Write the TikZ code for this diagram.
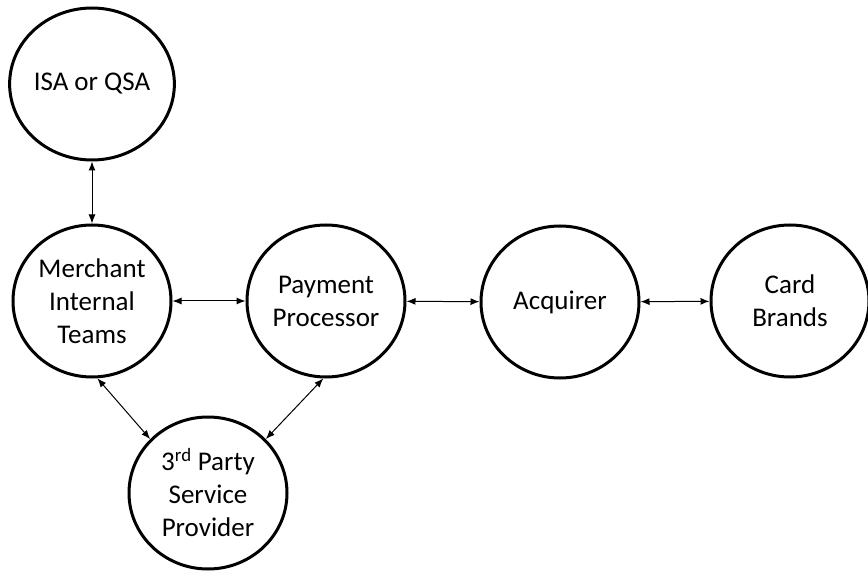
\documentclass[tikz,border=0pt]{standalone}
\usepackage{fontspec}
\setmainfont{Carlito}
\usetikzlibrary{shapes.geometric,arrows.meta}

\begin{document}
\begin{tikzpicture}[x=1pt,y=-1pt,
    party/.style={ellipse, draw, line width=3pt, inner sep=0pt,
        minimum width=158pt, minimum height=152pt, align=center,
        font=\fontsize{27}{33}\selectfont},
    link/.style={{Latex[length=9pt,width=7pt]}-{Latex[length=9pt,width=7pt]}, line width=1pt}]
    \useasboundingbox (0,0) rectangle (868,572);
    % the parties
    \node[party] (isa) at (92,84) {ISA or QSA};
    \node[party] (merchant) at (92,301) {Merchant\\Internal\\Teams};
    \node[party] (processor) at (326,301) {Payment\\Processor};
    \node[party] (acquirer) at (560,302) {Acquirer};
    \node[party] (brands) at (790,301) {Card\\Brands};
    \node[party] (provider) at (208,493) {3\textsuperscript{rd} Party\\Service\\Provider};
    % links between them
    \draw[link] (isa) -- (merchant);
    \draw[link] (merchant) -- (processor);
    \draw[link] (processor) -- (acquirer);
    \draw[link] (acquirer) -- (brands);
    \draw[link] (merchant.-86) -- (provider.137);
    \draw[link] (processor.-92) -- (provider.43);
\end{tikzpicture}
\end{document}
